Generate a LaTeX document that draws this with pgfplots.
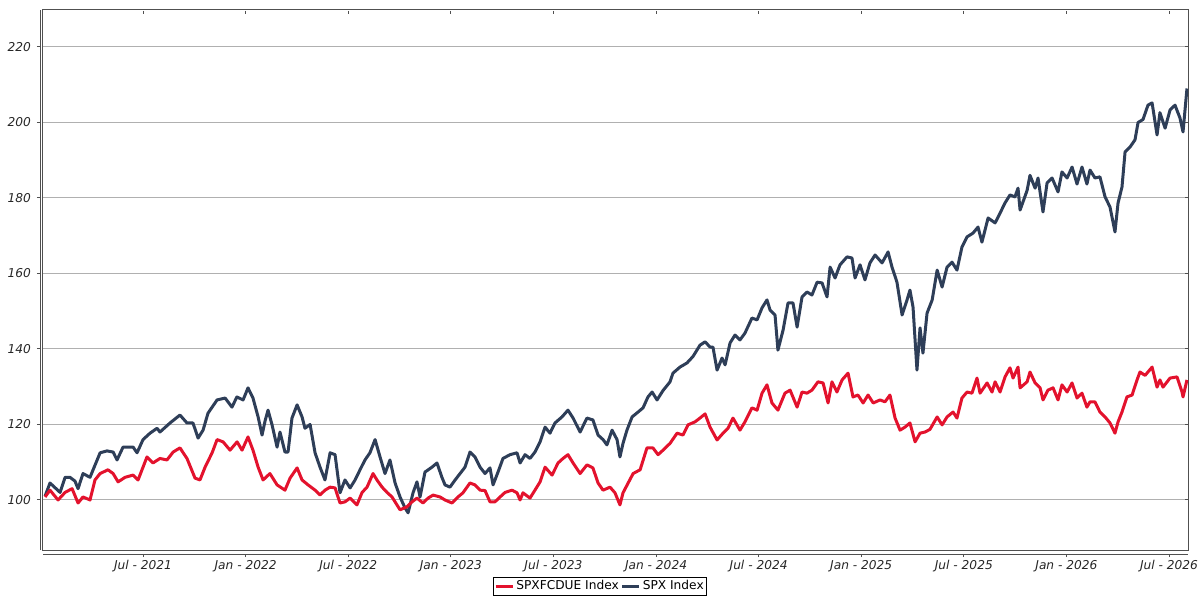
\documentclass[border=0pt]{standalone}
\usepackage{pgfplots}
\pgfplotsset{compat=1.18}
\usepackage{fontspec}
\setmainfont{DejaVu Sans}
\definecolor{spxred}{RGB}{227,18,45}
\definecolor{spxnavy}{RGB}{46,62,88}
\definecolor{framegray}{RGB}{80,80,80}
\definecolor{gridgray}{RGB}{176,176,176}
\begin{document}
\begin{tikzpicture}
\useasboundingbox (-21.5pt,-25pt) rectangle (578.5pt,275pt);
\begin{axis}[
  name=ax,
  at={(0,0)}, anchor=south west,
  scale only axis, width=572.5pt, height=270pt,
  xmin=0.15, xmax=67.11, ymin=86.75, ymax=229.8,
  axis line style={draw=framegray, line width=0.5pt},
  xtick={6,12,18,24,30,36,42,48,54,60,66},
  xticklabels={Jul - 2021, Jan - 2022, Jul - 2022, Jan - 2023, Jul - 2023, Jan - 2024, Jul - 2024, Jan - 2025, Jul - 2025, Jan - 2026, Jul - 2026},
  ytick={100,120,140,160,180,200,220},
  /pgf/number format/assume math mode=true,
  ymajorgrids, grid style={draw=gridgray, line width=0.5pt},
  tick align=outside, major tick length=1.5pt,
  ytick style={draw=framegray, line width=0.5pt, xshift=-1.5pt},
  xtick style={draw=framegray, line width=0.5pt, yshift=-2pt},
  ticklabel style={font=\fontsize{6.1}{7}\selectfont\itshape, text=black!85},
  yticklabel style={xshift=-1pt},
  xticklabel style={yshift=0pt},
  legend columns=2, reverse legend,
  legend style={at={(0.4865,-0.05)}, anchor=north, draw=black, line width=0.5pt,
    font=\fontsize{6.1}{7}\selectfont, inner sep=0.4pt, row sep=0pt,
    /tikz/every odd column/.append style={column sep=0pt},
    /tikz/every even column/.append style={column sep=0pt},
    nodes={inner sep=1pt}},
  legend image code/.code={\draw[#1, line width=1.5pt] (0pt,0pt) -- (8.5pt,0pt);},
  clip=true,
]
\addplot[spxnavy, line width=1.5pt, line join=round] coordinates {
(0.27,101) (0.56,104.5) (1.15,102) (1.44,106) (1.73,106) (2.02,105) (2.20,103) (2.49,107) (2.90,106) (3.08,108)
(3.49,112.5) (3.89,113) (4.25,112.7) (4.48,110.6) (4.83,114) (5.42,114) (5.65,112.5) (6.00,116) (6.41,117.7) (6.82,119)
(6.99,118) (7.58,120.4) (8.16,122.5) (8.57,120.4) (8.92,120.4) (9.22,116.4) (9.51,118.5) (9.80,123) (10.33,126.5) (10.80,127)
(11.20,124.6) (11.49,127.3) (11.85,126.5) (12.14,129.7) (12.43,127) (12.73,122) (12.96,117.2) (13.14,121) (13.31,123.8) (13.54,120)
(13.84,114) (14.01,118) (14.30,112.7) (14.48,112.7) (14.71,121.7) (15.01,125.2) (15.30,122) (15.47,119) (15.77,120) (16.06,112.5)
(16.35,108.7) (16.64,105.3) (16.94,112.5) (17.23,112) (17.52,101.9) (17.81,105.3) (18.11,103.2) (18.40,105.3) (18.69,108) (18.98,110.6)
(19.27,112.5) (19.57,116) (19.86,111.4) (20.15,107) (20.44,110.6) (20.74,104.5) (21.03,100.8) (21.32,97.9) (21.50,96.6) (21.79,101.9)
(22.02,104.8) (22.20,100.8) (22.49,107.4) (22.90,108.7) (23.19,109.8) (23.48,106) (23.66,104) (23.95,103.4) (24.25,105.3) (24.54,107)
(24.83,108.7) (25.12,112.7) (25.41,111.4) (25.71,108.7) (26.00,107) (26.29,108.5) (26.47,104) (26.76,107.4) (27.05,111) (27.46,112)
(27.87,112.5) (28.05,109.8) (28.34,112) (28.63,111) (28.92,112.7) (29.22,115.4) (29.51,119.3) (29.80,117.7) (30.09,120.4) (30.50,122)
(30.85,123.8) (31.15,121.7) (31.56,118) (31.96,121.7) (32.31,121.2) (32.61,117.2) (32.90,116) (33.13,114.6) (33.43,118.5) (33.72,116)
(33.89,111.4) (34.07,115) (34.30,118.5) (34.60,122) (34.95,123.3) (35.24,124.4) (35.53,127.3) (35.77,128.6) (36.06,126.5) (36.41,129)
(36.82,131.3) (36.99,133.6) (37.40,135.2) (37.81,136.3) (38.16,138) (38.57,141) (38.87,141.9) (39.16,140.5) (39.33,140.5) (39.57,134.4)
(39.86,137.6) (40.04,135.8) (40.33,141.6) (40.62,143.7) (40.91,142.4) (41.20,144.2) (41.61,148.2) (41.91,147.7) (42.20,150.9) (42.49,153)
(42.67,150.3) (42.96,149) (43.13,139.7) (43.43,145) (43.72,152.2) (44.01,152.2) (44.25,145.8) (44.54,153.8) (44.83,155.1) (45.12,154.3)
(45.42,157.7) (45.71,157.5) (46.00,153.8) (46.18,161.7) (46.47,158.8) (46.76,162.3) (47.17,164.4) (47.46,164.1) (47.64,158.8) (47.93,162.3)
(48.22,158.3) (48.51,162.8) (48.81,164.9) (49.22,162.8) (49.57,165.7) (49.80,161.7) (50.09,157.7) (50.39,149) (50.68,153) (50.85,155.6)
(51.03,151.1) (51.26,134.4) (51.44,145.6) (51.61,138.9) (51.85,149.5) (52.15,153) (52.44,160.9) (52.73,156.4) (53.02,161.7) (53.31,163)
(53.60,160.9) (53.89,167) (54.19,169.7) (54.54,170.7) (54.83,172.3) (55.06,168.3) (55.42,174.7) (55.83,173.4) (56.12,176) (56.41,178.7)
(56.70,180.8) (56.99,180.3) (57.17,182.6) (57.29,176.8) (57.70,182) (57.87,186) (58.17,182.6) (58.34,185.3) (58.63,176.3) (58.87,184)
(59.16,185.3) (59.51,181.6) (59.74,186.9) (60.04,185.3) (60.33,188.2) (60.62,183.7) (60.91,188.2) (61.20,183.7) (61.38,187.4) (61.67,185.3)
(61.96,185.6) (62.26,180.3) (62.55,177.6) (62.84,171) (63.02,178.7) (63.25,182.9) (63.43,192.2) (63.72,193.5) (64.01,195.4) (64.19,200)
(64.48,200.8) (64.77,204.6) (65.01,205.2) (65.30,196.7) (65.47,202.6) (65.77,198.5) (66.06,203.3) (66.35,204.6) (66.64,201.2) (66.82,197.5)
(67.05,209)
};
\addlegendentry{SPX Index}
\addplot[spxred, line width=1.5pt, line join=round] coordinates {
(0.27,100.8) (0.56,102.6) (1.03,100) (1.44,102) (1.85,103) (2.20,99.2) (2.49,100.8) (2.90,100) (3.19,105.3) (3.49,107)
(3.95,108) (4.25,107) (4.54,104.8) (4.95,106) (5.42,106.6) (5.71,105.3) (6.00,108.7) (6.23,111.4) (6.58,109.8) (6.99,111)
(7.40,110.6) (7.76,112.7) (8.16,113.8) (8.57,111) (9.04,105.8) (9.33,105.3) (9.63,108.7) (10.04,112.5) (10.33,116) (10.68,115.4)
(11.09,113.2) (11.50,115.4) (11.79,113.2) (12.14,116.7) (12.43,113.2) (12.73,108.7) (13.02,105.3) (13.42,107) (13.84,104) (14.30,102.6)
(14.60,105.8) (15.01,108.5) (15.30,105.3) (15.65,104) (16.06,102.6) (16.35,101.3) (16.64,102.6) (16.94,103.4) (17.23,103.2) (17.52,99.2)
(17.81,99.5) (18.11,100.5) (18.51,98.7) (18.81,102) (19.10,103.4) (19.45,107) (19.68,105.3) (19.98,103.4) (20.27,102) (20.56,100.8)
(20.85,98.7) (21.03,97.4) (21.44,98.2) (21.73,99.5) (22.02,100.5) (22.37,99.2) (22.67,100.5) (22.96,101.3) (23.37,100.8) (23.66,100)
(24.07,99.2) (24.42,100.8) (24.71,101.9) (25.12,104.5) (25.41,104) (25.71,102.6) (26.00,102.5) (26.29,99.5) (26.58,99.5) (26.88,100.8)
(27.17,102) (27.58,102.6) (27.87,101.9) (28.05,100) (28.22,101.9) (28.63,100.5) (28.92,102.6) (29.22,104.8) (29.51,108.7) (29.92,106.6)
(30.27,109.8) (30.56,111) (30.85,112) (31.15,109.8) (31.56,107) (31.96,109.3) (32.31,108.5) (32.61,104.5) (32.90,102.6) (33.31,103.4)
(33.60,101.9) (33.89,98.7) (34.07,101.9) (34.37,104.5) (34.66,107) (35.07,108) (35.47,113.8) (35.82,113.8) (36.12,112) (36.41,113.2)
(36.82,115) (37.23,117.7) (37.58,117.2) (37.87,119.9) (38.28,120.7) (38.57,121.7) (38.87,122.8) (39.16,119.3) (39.57,115.9) (39.92,117.7)
(40.21,119) (40.50,121.7) (40.91,118.5) (41.20,120.7) (41.61,124.4) (41.91,123.8) (42.20,128.3) (42.49,130.5) (42.78,125.7) (43.13,123.8)
(43.54,128.3) (43.84,129.1) (44.25,124.6) (44.54,128.6) (44.83,128.3) (45.12,129.1) (45.47,131.3) (45.77,131) (46.06,125.7) (46.29,131.3)
(46.58,128.6) (46.88,131.8) (47.23,133.6) (47.52,127.3) (47.81,127.8) (48.11,125.7) (48.40,127.8) (48.70,125.7) (49.10,126.5) (49.39,126)
(49.68,127.8) (49.98,121.7) (50.27,118.5) (50.56,119.3) (50.85,120.4) (51.15,115.4) (51.44,117.7) (51.73,118) (52.02,118.7) (52.44,122)
(52.73,119.9) (53.02,122) (53.37,123.3) (53.60,121.7) (53.89,127) (54.19,128.6) (54.48,128.3) (54.77,132.3) (54.95,128.3) (55.36,131)
(55.65,128.6) (55.83,131.3) (56.12,128.6) (56.41,132.6) (56.70,135) (56.88,132.3) (57.17,135.2) (57.29,129.7) (57.70,131.3) (57.87,133.9)
(58.17,131) (58.46,129.7) (58.63,126.5) (58.92,129.1) (59.22,129.7) (59.51,126.5) (59.74,130.5) (60.04,128.6) (60.33,131) (60.62,127)
(60.91,128.3) (61.20,124.6) (61.38,126) (61.67,126) (61.96,123.3) (62.26,122) (62.55,120.4) (62.84,117.7) (63.02,120.7) (63.25,123.3)
(63.54,127.3) (63.84,127.8) (64.13,131.8) (64.30,133.9) (64.60,133) (65.01,135.2) (65.30,129.9) (65.47,131.8) (65.65,129.9) (66.06,132.3)
(66.47,132.6) (66.76,128.6) (66.82,127.3) (67.05,131.8)
};
\addlegendentry{SPXFCDUE Index}
\end{axis}
\draw[framegray, line width=0.5pt] ([xshift=-1.5pt]ax.south west) -- ([xshift=-1.5pt]ax.north west);
\draw[framegray, line width=0.5pt] ([yshift=-2pt]ax.south west) -- ([yshift=-2pt]ax.south east);
\end{tikzpicture}
\end{document}
